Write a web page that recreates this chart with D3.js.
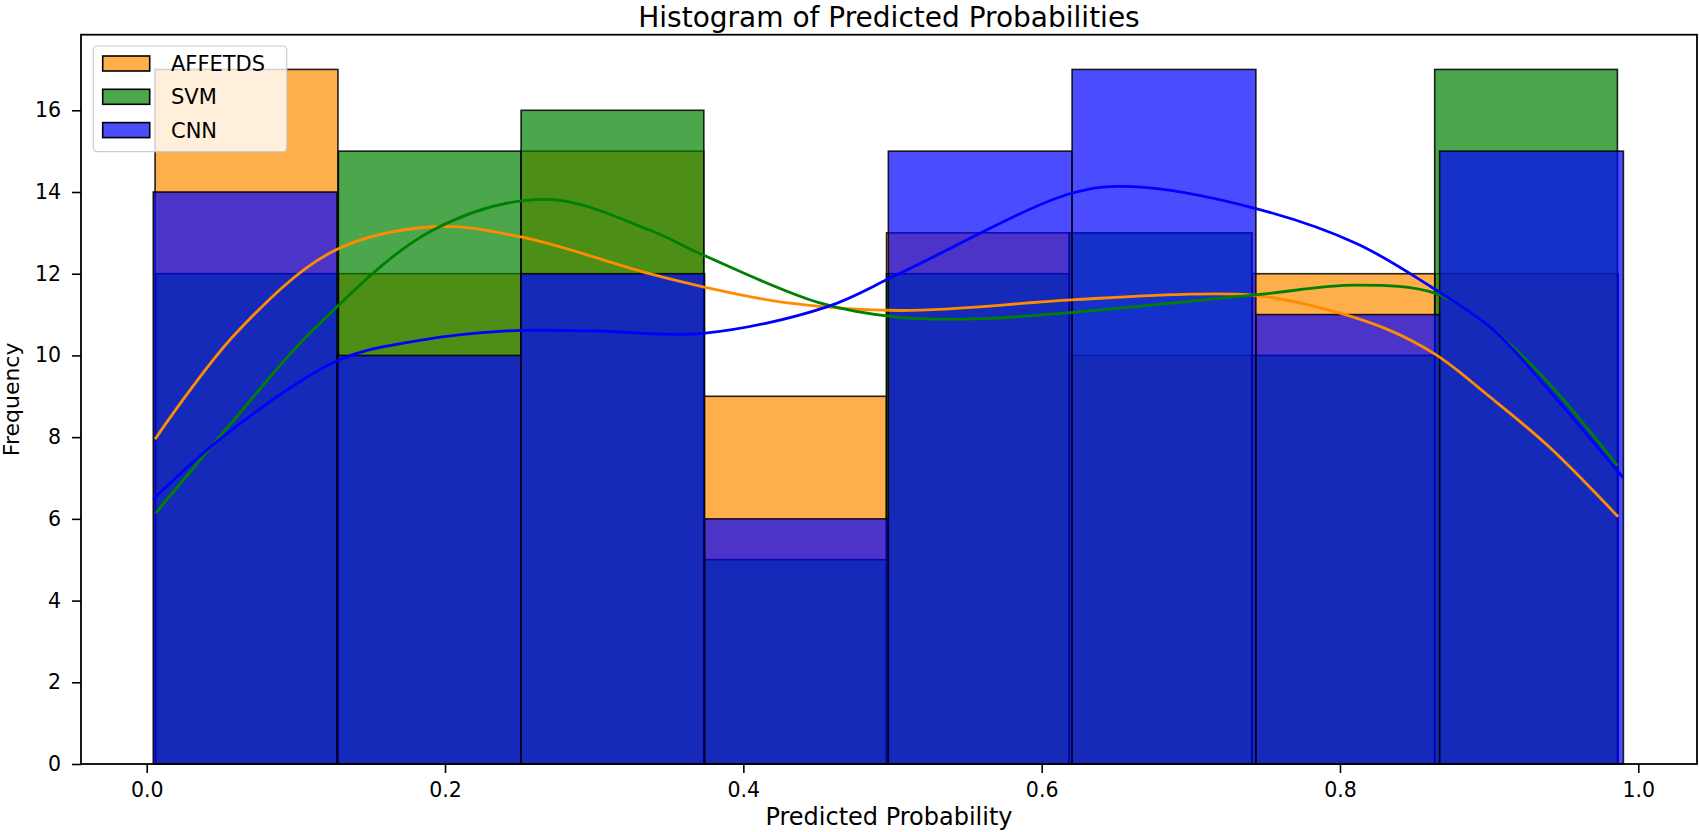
<!DOCTYPE html>
<html>
    <head>
        <title>Histogram of Predicted Probabilities</title>
        <script src="https://d3js.org/d3.v7.min.js"></script>
        <style>
         body { margin: 0; background: #fff; }
         svg { display: block; font-family: "DejaVu Sans", sans-serif; }
        </style>
    </head>
    <body>
        <svg width="1699" height="832"></svg>

        <script>
         // series, drawn in this order
         const seriesNames = ["AFFETDS", "SVM", "CNN"];
         const seriesColors = ["darkorange", "green", "blue"];

         // histogram counts per bin (8 bins)
         const countsAFFETDS = [17, 12, 15, 9, 13, 10, 12, 12];
         const countsSVM = [12, 15, 16, 5, 12, 13, 10, 17];
         const countsCNN = [14, 10, 12, 6, 15, 17, 11, 15];

         // bin edges, each series has its own data range
         const edgesAFFETDS = [0.0056, 0.1282, 0.2508, 0.3734, 0.4960, 0.6186, 0.7412, 0.8638, 0.9865];
         const edgesSVM = [0.0060, 0.1285, 0.2510, 0.3735, 0.4960, 0.6185, 0.7410, 0.8635, 0.9860];
         const edgesCNN = [0.0044, 0.1276, 0.2508, 0.3740, 0.4972, 0.6204, 0.7436, 0.8668, 0.9900];

         // kde curves (x = probability, y = frequency)
         const kdeXAFFETDS = [0.0056, 0.06, 0.125, 0.192, 0.251, 0.337, 0.373, 0.427, 0.505, 0.62, 0.70, 0.743, 0.783, 0.833, 0.865, 0.90, 0.94, 0.9865];
         const kdeYAFFETDS = [7.95, 10.55, 12.55, 13.15, 12.9, 12.0, 11.68, 11.3, 11.1, 11.36, 11.5, 11.47, 11.2, 10.62, 10.0, 9.0, 7.77, 6.05];

         const kdeXSVM = [0.006, 0.0585, 0.112, 0.192, 0.268, 0.337, 0.373, 0.45, 0.505, 0.56, 0.62, 0.743, 0.811, 0.864, 0.903, 0.94, 0.986];
         const kdeYSVM = [6.14, 8.42, 10.64, 13.07, 13.82, 13.07, 12.46, 11.3, 10.93, 10.9, 11.05, 11.48, 11.72, 11.52, 10.62, 9.32, 7.3];

         const kdeXCNN = [0.0044, 0.054, 0.129, 0.18, 0.241, 0.30, 0.373, 0.456, 0.505, 0.62, 0.661, 0.743, 0.811, 0.861, 0.903, 0.94, 0.99];
         const kdeYCNN = [6.48, 8.09, 9.89, 10.35, 10.6, 10.6, 10.54, 11.19, 12.01, 13.97, 14.13, 13.6, 12.74, 11.68, 10.62, 9.15, 7.0];

         const xTicks = [0.0, 0.2, 0.4, 0.6, 0.8, 1.0];
         const yTicks = [0, 2, 4, 6, 8, 10, 12, 14, 16];

         const allCounts = [countsAFFETDS, countsSVM, countsCNN];
         const allEdges = [edgesAFFETDS, edgesSVM, edgesCNN];
         const allKdeX = [kdeXAFFETDS, kdeXSVM, kdeXCNN];
         const allKdeY = [kdeYAFFETDS, kdeYSVM, kdeYCNN];

         const svg = d3.select("svg");
         const width = +svg.attr("width");
         const height = +svg.attr("height");

         const margin = {top: 34.7, right: 2, bottom: 68, left: 81};

         const xScale = d3.scaleLinear().domain([-0.04405, 1.03935]).range([margin.left, width - margin.right]);
         const yScale = d3.scaleLinear().domain([0, 17.85]).range([height - margin.bottom, margin.top]);

         const bars = svg.append("g");
         allCounts.forEach((counts, s) => {
             const edges = allEdges[s];
             bars.append("g")
                 .selectAll("rect")
                 .data(counts)
                 .join("rect")
                 .attr("x", (d, i) => xScale(edges[i]))
                 .attr("width", (d, i) => xScale(edges[i + 1]) - xScale(edges[i]))
                 .attr("y", d => yScale(d))
                 .attr("height", d => yScale(0) - yScale(d))
                 .attr("fill", seriesColors[s])
                 .attr("fill-opacity", 0.7)
                 .attr("stroke", "#000")
                 .attr("stroke-opacity", 0.85)
                 .attr("stroke-width", 1.6);
         });

         // kde lines sit above all bars
         const line = d3.line()
             .x(d => xScale(d[0]))
             .y(d => yScale(d[1]))
             .curve(d3.curveCatmullRom.alpha(0.5));

         allKdeX.forEach((xs, s) => {
             svg.append("path")
                 .datum(xs.map((v, i) => [v, allKdeY[s][i]]))
                 .attr("d", line)
                 .attr("fill", "none")
                 .attr("stroke", seriesColors[s])
                 .attr("stroke-width", 2.8);
         });

         // axes
         const xAxis = svg.append("g")
             .attr("transform", `translate(0,${height - margin.bottom})`)
             .call(d3.axisBottom(xScale).tickValues(xTicks).tickFormat(d3.format(".1f")).tickSize(9).tickPadding(9));
         const yAxis = svg.append("g")
             .attr("transform", `translate(${margin.left},0)`)
             .call(d3.axisLeft(yScale).tickValues(yTicks).tickFormat(d3.format("d")).tickSize(9).tickPadding(11));

         [xAxis, yAxis].forEach(a => {
             a.select(".domain").remove();
             a.selectAll(".tick line").attr("stroke", "#000").attr("stroke-width", 1.6);
             a.selectAll(".tick text").attr("fill", "#000").style("font-size", "20.5px").style("font-family", "DejaVu Sans");
         });

         // spines
         svg.append("rect")
             .attr("x", margin.left)
             .attr("y", margin.top)
             .attr("width", width - margin.left - margin.right)
             .attr("height", height - margin.top - margin.bottom)
             .attr("fill", "none")
             .attr("stroke", "#000")
             .attr("stroke-width", 1.8);

         // title and axis labels
         svg.append("text")
             .attr("x", (margin.left + width - margin.right) / 2)
             .attr("y", 27)
             .attr("text-anchor", "middle")
             .style("font-size", "28px")
             .text("Histogram of Predicted Probabilities");

         svg.append("text")
             .attr("x", (margin.left + width - margin.right) / 2)
             .attr("y", 825)
             .attr("text-anchor", "middle")
             .style("font-size", "24px")
             .text("Predicted Probability");

         svg.append("text")
             .attr("text-anchor", "middle")
             .attr("transform", `translate(19,${(margin.top + height - margin.bottom) / 2}) rotate(-90)`)
             .style("font-size", "22px")
             .text("Frequency");

         // legend
         const legend = svg.append("g").attr("transform", "translate(93.3,46)");
         legend.append("rect")
             .attr("width", 193.4)
             .attr("height", 105.7)
             .attr("rx", 4)
             .attr("fill", "#fff")
             .attr("fill-opacity", 0.8)
             .attr("stroke", "#ccc")
             .attr("stroke-width", 1.2);

         const rows = legend.selectAll("g.row")
             .data(seriesNames)
             .join("g")
             .attr("class", "row")
             .attr("transform", (d, i) => `translate(0,${17.5 + i * 33.3})`);

         rows.append("rect")
             .attr("x", 9.4)
             .attr("y", -7.5)
             .attr("width", 47)
             .attr("height", 15)
             .attr("fill", (d, i) => seriesColors[i])
             .attr("fill-opacity", 0.7)
             .attr("stroke", "#000")
             .attr("stroke-width", 1.6);

         rows.append("text")
             .attr("x", 77.7)
             .attr("dy", "0.36em")
             .style("font-size", "21px")
             .text(d => d);
        </script>
    </body>
</html>
